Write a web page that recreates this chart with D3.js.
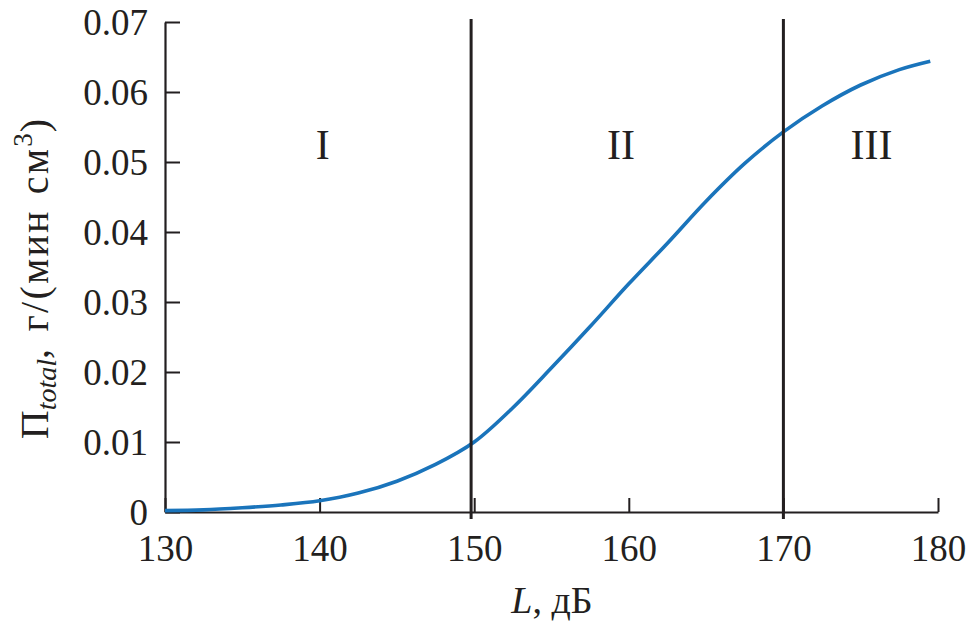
<!DOCTYPE html>
<html><head><meta charset="utf-8">
<script src="https://cdn.jsdelivr.net/npm/d3@7"></script>
<style>body{margin:0;background:#fff}svg{display:block}text{font-family:"Liberation Serif","Times New Roman",serif;fill:#231f20}</style>
</head><body><svg id="c" width="968" height="626"></svg>
<script>
const levels = [130,132.5,135,137.5,140,142.5,145,147.5,150,152.5,155,157.5,160,162.5,165,167.5,170,172.5,175,177.5,179.5];
const piTotal = [0.0002,0.0003,0.0006,0.001,0.0016,0.0027,0.0044,0.0068,0.0100,0.0149,0.0206,0.0265,0.0326,0.0384,0.0444,0.0498,0.0543,0.0580,0.0610,0.0632,0.0644];
const xTicks = [130,140,150,160,170,180];
const yTicks = [0,0.01,0.02,0.03,0.04,0.05,0.06,0.07];
const boundaries = [149.8,170];
const zones = [{label:"I",x:140.2},{label:"II",x:159.5},{label:"III",x:175.7}];

const svg = d3.select("#c");
const x = d3.scaleLinear().domain([130,180]).range([165,938]);
const y = d3.scaleLinear().domain([0,0.07]).range([512,22]);
const ink = "#231f20";

// axes
const xa = svg.append("g").attr("transform",`translate(0,${y(0)})`)
  .call(d3.axisBottom(x).tickValues(xTicks).tickSize(-14).tickPadding(22).tickSizeOuter(0).tickFormat(d3.format("d")));
const ya = svg.append("g").attr("transform",`translate(${x(130)},0)`)
  .call(d3.axisLeft(y).tickValues(yTicks).tickSize(-15).tickPadding(17).tickSizeOuter(0).tickFormat(d=>d===0?"0":d3.format(".2f")(d)));
[xa,ya].forEach(g=>{
  g.selectAll("path").attr("stroke",ink).attr("stroke-width",2.2);
  g.selectAll("line").attr("stroke",ink).attr("stroke-width",2);
  g.selectAll("text").attr("font-size",37).attr("font-family","Liberation Serif").attr("fill",ink);
});
ya.selectAll("text").attr("dy","0.34em");
xa.selectAll("text").attr("dy","0.72em");

// curve
svg.append("path").datum(levels.map((l,i)=>[l,piTotal[i]]))
  .attr("fill","none").attr("stroke","#1a74bb").attr("stroke-width",3.6)
  .attr("d",d3.line().x(d=>x(d[0])).y(d=>y(d[1])).curve(d3.curveCatmullRom.alpha(0.5)));

// boundaries
svg.selectAll(".b").data(boundaries).enter().append("line")
  .attr("x1",d=>x(d)).attr("x2",d=>x(d)).attr("y1",y(0.07)-3).attr("y2",y(0)+7)
  .attr("stroke",ink).attr("stroke-width",3);

// zone labels
svg.selectAll(".z").data(zones).enter().append("text")
  .attr("x",d=>x(d.x)).attr("y",159).attr("text-anchor","middle").attr("font-size",42).text(d=>d.label);

// x title
const xt = svg.append("text").attr("x",552).attr("y",613).attr("text-anchor","middle").attr("font-size",38);
xt.append("tspan").attr("font-style","italic").text("L");
xt.append("tspan").text(", дБ");

// y title
const yt = svg.append("text").attr("transform","translate(48,279) rotate(-90)").attr("text-anchor","middle")
  .attr("font-size",40).attr("word-spacing",3);
yt.append("tspan").text("П");
yt.append("tspan").attr("font-style","italic").attr("font-size",28).attr("dy",8).text("total");
yt.append("tspan").attr("dy",-8).attr("letter-spacing",2.2).text(", г/(мин см");
yt.append("tspan").attr("font-size",27).attr("dy",-16).text("3");
yt.append("tspan").attr("dy",16).attr("dx",1).text(")");
</script></body></html>
